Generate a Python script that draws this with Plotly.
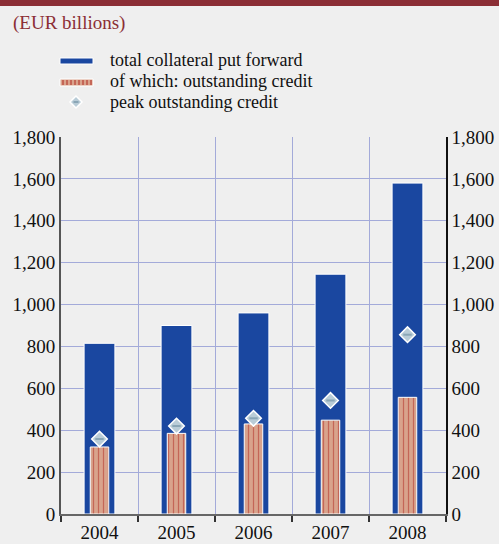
import plotly.graph_objects as go

years = ["2004", "2005", "2006", "2007", "2008"]
total_collateral = [815, 900, 960, 1145, 1580]
outstanding_credit = [320, 385, 430, 448, 557]
peak_credit = [358, 420, 457, 542, 856]
y_ticks = [0, 200, 400, 600, 800, 1000, 1200, 1400, 1600, 1800]
legend_labels = ["total collateral put forward", "of which: outstanding credit",
                 "peak outstanding credit"]

FONT = "Liberation Serif"
BG = "#efefef"
GRID = "#a3aad9"
BLUE = "#1a47a0"
SALMON = "#d9a38c"
STRIPE = "#b02a22"
DIAMOND = "#b9ccd7"
DIAMOND_MID = "#8aa6b6"
W, H = 499, 544
L, R, T, B = 61, 53, 137, 30
PW, PH = W - L - R, H - T - B


def xp(px):
    return (px - L) / PW


def yp(py):
    return 1 - (py - T) / PH


fig = go.Figure()
fig.add_trace(go.Bar(
    x=years, y=total_collateral, name=legend_labels[0], showlegend=False,
    width=0.4, marker=dict(color=BLUE, line=dict(color="white", width=1)),
))
fig.add_trace(go.Bar(
    x=years, y=outstanding_credit, name=legend_labels[1], showlegend=False,
    width=0.24,
    marker=dict(color=SALMON, line=dict(color="white", width=1),
                pattern=dict(shape="|", fgcolor=STRIPE, bgcolor=SALMON,
                             size=5, solidity=0.25)),
))
fig.add_trace(go.Scatter(
    x=years, y=peak_credit, name=legend_labels[2], mode="markers", showlegend=False,
    marker=dict(symbol="diamond", size=12, color=DIAMOND,
                line=dict(color="white", width=1.5)),
))
fig.add_trace(go.Scatter(
    x=years, y=peak_credit, mode="markers", showlegend=False, hoverinfo="skip",
    marker=dict(symbol="line-ew", size=6, line=dict(color=DIAMOND_MID, width=2)),
))
# invisible trace to anchor right axis
fig.add_trace(go.Scatter(x=years, y=total_collateral, yaxis="y2", mode="markers",
                         marker=dict(opacity=0), showlegend=False, hoverinfo="skip"))

shapes = [dict(type="rect", xref="paper", yref="paper",
               x0=xp(-5), x1=xp(W + 5), y0=yp(6), y1=yp(-5),
               fillcolor="#8b2e35", line=dict(width=0), layer="above")]
# manual legend swatches
shapes.append(dict(type="rect", xref="paper", yref="paper",
                   x0=xp(60), x1=xp(93), y0=yp(64), y1=yp(58),
                   fillcolor=BLUE, line=dict(color="white", width=1)))
shapes.append(dict(type="rect", xref="paper", yref="paper",
                   x0=xp(60), x1=xp(93), y0=yp(86), y1=yp(79),
                   fillcolor=SALMON, line=dict(color="white", width=1)))
for sx in range(63, 92, 4):
    shapes.append(dict(type="line", xref="paper", yref="paper",
                       x0=xp(sx), x1=xp(sx), y0=yp(85), y1=yp(80),
                       line=dict(color=STRIPE, width=1)))
shapes.append(dict(type="path", xref="paper", yref="paper",
                   path=(f"M {xp(76)},{yp(96)} L {xp(82)},{yp(102)} "
                         f"L {xp(76)},{yp(108)} L {xp(70)},{yp(102)} Z"),
                   fillcolor=DIAMOND, line=dict(color="white", width=1.5)))
shapes.append(dict(type="line", xref="paper", yref="paper",
                   x0=xp(73.5), x1=xp(78.5), y0=yp(102), y1=yp(102),
                   line=dict(color=DIAMOND_MID, width=2)))

annotations = [dict(text="(EUR billions)", xref="paper", yref="paper",
                    x=xp(11), y=yp(23), xanchor="left", yanchor="middle",
                    showarrow=False,
                    font=dict(family=FONT, size=19, color="#8b2e35"))]
for lbl, cy in zip(legend_labels, [60, 81, 102]):
    annotations.append(dict(text=lbl, xref="paper", yref="paper",
                            x=xp(108), y=yp(cy), xanchor="left", yanchor="middle",
                            showarrow=False,
                            font=dict(family=FONT, size=18, color="#111")))

fig.update_layout(
    width=W, height=H,
    paper_bgcolor=BG, plot_bgcolor=BG,
    margin=dict(l=L, r=R, t=T, b=B, autoexpand=False),
    barmode="overlay",
    font=dict(family=FONT, size=19, color="#111"),
    showlegend=False,
    xaxis=dict(type="category", tickson="boundaries", ticks="outside", ticklen=6,
               tickcolor="#333", tickwidth=1.5, showgrid=True, gridcolor=GRID, gridwidth=1,
               showline=True, linecolor="#666", linewidth=2, automargin=False,
               tickfont=dict(family=FONT, size=19)),
    yaxis=dict(range=[0, 1800], tickvals=y_ticks, tickformat=",d",
               showgrid=True, gridcolor=GRID, gridwidth=1, automargin=False,
               showline=True, linecolor="#555", linewidth=2, ticks="",
               zeroline=False, tickfont=dict(family=FONT, size=19)),
    yaxis2=dict(range=[0, 1800], tickvals=y_ticks, tickformat=",d",
                overlaying="y", side="right", showgrid=False, zeroline=False,
                showline=True, linecolor="#111", linewidth=1.5, ticks="",
                automargin=False, tickfont=dict(family=FONT, size=19)),
    shapes=shapes,
    annotations=annotations,
)

fig.write_html("out.html",
               config={"displayModeBar": False},
               post_script="document.body.style.margin='0';"
                           "document.body.style.background='#efefef';")
